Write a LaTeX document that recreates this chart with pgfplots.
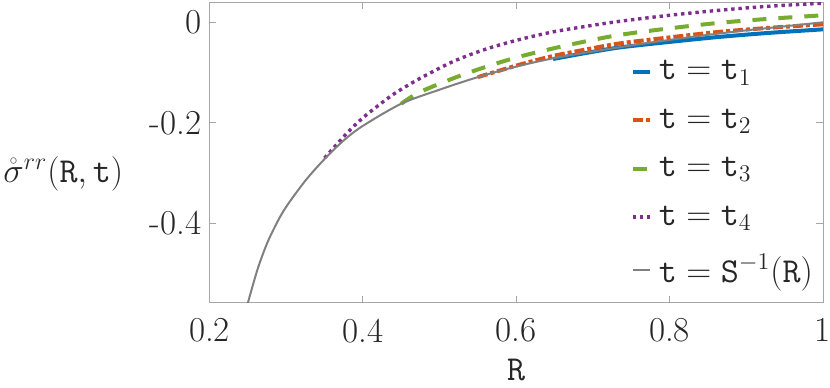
\documentclass[border=0pt]{standalone}
\usepackage{fontspec}
\usepackage{pgfplots}
\pgfplotsset{compat=1.18}

\definecolor{mblue}{rgb}{0,0.447,0.741}
\definecolor{morange}{rgb}{0.85,0.325,0.098}
\definecolor{mgreen}{rgb}{0.466,0.674,0.188}
\definecolor{mpurple}{rgb}{0.494,0.184,0.556}
\definecolor{mgray}{rgb}{0.5,0.5,0.5}
\definecolor{axgray}{rgb}{0.65,0.65,0.65}
\definecolor{txt}{rgb}{0.15,0.15,0.15}

\newcommand{\fs}{\fontsize{17.5}{21}\selectfont}

\begin{document}
\begin{tikzpicture}
\begin{axis}[
    name=ax,
    scale only axis,
    width=306.75pt, height=149.8pt,
    xmin=0.2, xmax=1,
    ymin=-0.557, ymax=0.039,
    xtick={0.2,0.4,0.6,0.8,1},
    xticklabels={0.2,0.4,0.6,0.8,1},
    ytick={-0.4,-0.2,0},
    yticklabels={-0.4,-0.2,0},
    tick align=inside,
    major tick length=3.3pt,
    axis line style={axgray, line width=0.5pt},
    every tick/.style={axgray, line width=0.5pt},
    tick label style={font=\fs, text=txt},
    xticklabel style={inner sep=0pt, yshift=-8pt},
    yticklabel style={inner sep=0pt, xshift=-4pt},
    xlabel={$\mathtt{R}$},
    xlabel style={font=\fs, text=txt, at={(rel axis cs:0.5,0)}, anchor=north, inner sep=0pt, yshift=-28pt},
    ylabel={$\mathring{\sigma}^{rr}(\mathtt{R},\mathtt{t})$},
    ylabel style={font=\fs, text=txt, rotate=-90, at={(rel axis cs:0,0.43)}, anchor=east, inner sep=0pt, xshift=-43pt},
    legend style={font=\fs, text=txt, draw=none, fill=none,
        at={(rel axis cs:0.686,0.815)}, anchor=north west,
        inner sep=0pt, row sep=11pt, nodes={inner sep=1pt}},
    legend cell align=left,
    legend image code/.code={\draw[#1] (0pt,0pt) -- (8.5pt,0pt); \path (11pt,0pt);},
]
% t = t1
\addplot[mblue, line width=2pt, smooth] coordinates {
(0.648,-0.073)(0.691,-0.061)(0.735,-0.050)(0.80,-0.039)
(0.865,-0.029)(0.93,-0.021)(1.0,-0.014)
};
% t = t2
\addplot[morange, line width=2pt, dash pattern=on 5pt off 1.5pt on 2pt off 1.5pt, smooth] coordinates {
(0.55,-0.109)(0.605,-0.084)(0.648,-0.067)(0.691,-0.054)(0.735,-0.042)
(0.80,-0.030)(0.865,-0.019)(0.93,-0.011)(1.0,-0.004)
};
% t = t3
\addplot[mgreen, line width=2pt, dash pattern=on 7pt off 6pt, smooth] coordinates {
(0.45,-0.162)(0.474,-0.139)(0.522,-0.109)(0.5655,-0.086)(0.605,-0.068)
(0.648,-0.052)(0.687,-0.039)(0.735,-0.025)(0.80,-0.012)(0.865,-0.001)
(0.93,0.007)(1.0,0.014)
};
% t = t4
\addplot[mpurple, line width=1.7pt, dash pattern=on 1.7pt off 1.9pt, smooth] coordinates {
(0.35,-0.270)(0.379,-0.221)(0.40,-0.190)(0.4265,-0.158)(0.444,-0.139)
(0.474,-0.112)(0.5177,-0.078)(0.561,-0.053)(0.605,-0.034)(0.648,-0.019)
(0.691,-0.008)(0.735,0.002)(0.80,0.014)(0.865,0.024)(0.93,0.032)(1.0,0.038)
};
% t = S^{-1}(R)
\addplot[mgray, line width=1pt, smooth] coordinates {
(0.25,-0.5585)(0.2625,-0.492)(0.275,-0.440)(0.2875,-0.400)(0.30,-0.367)
(0.325,-0.315)(0.35,-0.272)(0.375,-0.235)(0.40,-0.206)(0.45,-0.162)
(0.50,-0.134)(0.55,-0.109)(0.60,-0.088)(0.65,-0.071)(0.70,-0.058)
(0.75,-0.046)(0.80,-0.035)(0.85,-0.025)(0.90,-0.016)(0.95,-0.008)(1.0,0.000)
};
\legend{$\mathtt{t}=\mathtt{t}_1$,$\mathtt{t}=\mathtt{t}_2$,$\mathtt{t}=\mathtt{t}_3$,$\mathtt{t}=\mathtt{t}_4$,$\mathtt{t}=\mathtt{S}^{-1}(\mathtt{R})$}
\end{axis}
\pgfresetboundingbox
\path ([shift={(-104.75pt,-42.35pt)}]ax.south west) rectangle ([shift={(3.5pt,1.35pt)}]ax.north east);
\end{tikzpicture}
\end{document}
